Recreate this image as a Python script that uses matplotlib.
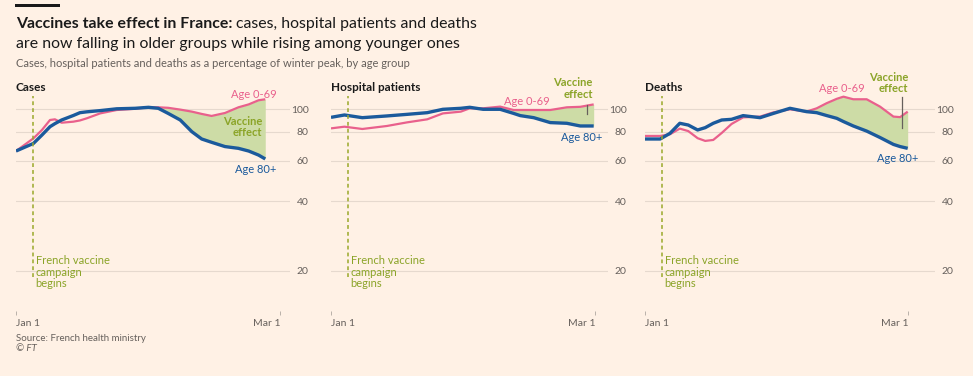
import numpy as np
import matplotlib.pyplot as plt
from matplotlib.patches import Rectangle
from matplotlib.ticker import NullLocator, NullFormatter

plt.rcParams['font.family'] = ['Lato', 'DejaVu Sans']

# data: days after Jan 1, value as % of winter peak
cases_days = [0, 3.9, 5.8, 7.6, 8.7, 10.2, 12.8, 14.3, 15.8, 18.8, 22.5, 26.6, 29.6, 31.8,
              34.0, 36.7, 39.3, 41.5, 43.7, 46.7, 49.7, 52.0, 54.2, 55.7]
cases_80 = [66, 71.2, 77.4, 84.1, 86.7, 89.9, 94, 96.7, 97.5, 98.7, 100.5, 101, 102, 101,
            96, 89.9, 80, 74.4, 72, 69, 67.8, 66, 63.4, 61]
cases_young = [66, 74.9, 81.4, 89.9, 90.5, 87.5, 88.4, 89.5, 91.4, 96, 99.3, 100.5, 102, 102,
               101.5, 99.7, 97.7, 95.5, 93.6, 96.4, 102, 105, 109.4, 110.5]

hosp_days = [0, 3, 7, 12.5, 17, 21.5, 25, 29, 31, 34, 37.8, 40.8, 42.3, 45.3, 49, 52.7, 55.7, 58.7]
hosp_80 = [92.3, 94.5, 92, 93.6, 95.1, 96.7, 100, 101, 102, 100, 100, 96, 93.9, 92, 87.6, 87,
           84.7, 84.7]
hosp_young = [82.7, 84.1, 82.2, 84.7, 87.8, 90.5, 96, 97.7, 101, 101, 102.7, 99.3, 99.3, 99.3,
              99.3, 102, 102.5, 105]

deaths_days = [0, 3.4, 5.6, 7.8, 9.7, 11.8, 13.5, 15.3, 17.2, 19.4, 22, 25.8, 28.8, 32.5, 36.2,
               38.5, 40.7, 43, 44.5, 46.7, 49.7, 52.7, 55.7, 57.2, 58.9]
deaths_80 = [74.4, 74.4, 78.7, 87, 85.5, 81.4, 83.3, 87, 89.9, 90.5, 93.9, 92, 96, 101, 97.7,
             96.7, 94, 91.4, 88.5, 84.7, 80.5, 75.5, 70.5, 69, 67.8]
deaths_young = [76.7, 76.7, 78, 82.5, 80.5, 75, 73, 73.7, 79, 86.4, 92.3, 93, 97, 100, 97.7,
                101, 106.2, 111, 113.4, 110.5, 110.5, 102.7, 93, 92.5, 97.7]

panel_titles = ['Cases', 'Hospital patients', 'Deaths']
y_ticks = [20, 40, 60, 80, 100]
x_ticks = [0, 59]
x_labels = ['Jan 1', 'Mar 1']
campaign_day = 3.8
effect_start = [31, 37, 36]

BG = '#fff1e5'
PINK = '#e9608c'
BLUE = '#1b5a9c'
FILL = '#cddca6'
OLIVE = '#8ba428'
GREY = '#66605c'
GRID = '#e6d9ce'

W, H = 973, 376
fig = plt.figure(figsize=(W / 100, H / 100), dpi=100, facecolor=BG)


def fx(px):
    return px / W


def fy(py):
    return 1 - py / H


# axes geometry in pixels: left, right, px per day
boxes = [(16, 290, 4.475), (331, 608, 4.475), (645, 935, 4.46)]
top_px, bot_px = 95, 315
series = [(cases_days, cases_80, cases_young),
          (hosp_days, hosp_80, hosp_young),
          (deaths_days, deaths_80, deaths_young)]

axes = []
for i, ((l, r, ppd), (d, old, young)) in enumerate(zip(boxes, series)):
    ax = fig.add_axes([fx(l), fy(bot_px), (r - l) / W, (bot_px - top_px) / H])
    ax.set_facecolor('none')
    d = np.array(d)
    old = np.array(old)
    young = np.array(young)

    ax.set_yscale('log')
    ax.set_ylim(12.9, 115.3)
    ax.set_xlim(0, (r - l) / ppd)
    ax.yaxis.tick_right()
    ax.set_yticks(y_ticks)
    ax.set_yticklabels([str(v) for v in y_ticks])
    ax.yaxis.set_minor_locator(NullLocator())
    ax.yaxis.set_minor_formatter(NullFormatter())
    ax.tick_params(axis='y', length=0, pad=13.5, labelsize=7.5, labelcolor=GREY)
    for lbl in ax.get_yticklabels():
        lbl.set_horizontalalignment('right')
    ax.grid(axis='y', color=GRID, lw=0.8)
    ax.set_axisbelow(True)

    ax.set_xticks(x_ticks)
    ax.set_xticklabels(x_labels)
    ax.tick_params(axis='x', direction='in', length=3, width=0.6, color='#b0a8a0',
                   pad=3, labelsize=7.5, labelcolor=GREY)
    xl = ax.get_xticklabels()
    xl[0].set_horizontalalignment('left')
    xl[1].set_horizontalalignment('right')

    for s in ax.spines.values():
        s.set_visible(False)

    ax.fill_between(d, old, young, where=(young >= old) & (d >= effect_start[i]),
                    interpolate=True, color=FILL, lw=0)
    ax.plot(d, young, color=PINK, lw=1.6, solid_capstyle='butt')
    ax.plot(d, old, color=BLUE, lw=2.4, solid_capstyle='butt')

    # vaccine campaign marker
    ax.plot([campaign_day, campaign_day], [18.8, 114], color='#9aa82a', lw=1.1,
            ls=(0, (2.5, 2)))
    ax.text(campaign_day + 0.6, 23.4, 'French vaccine\ncampaign\nbegins', color=OLIVE,
            fontsize=8, va='top', ha='left', linespacing=1.05)

    fig.text(fx(l), fy(91), panel_titles[i], fontsize=8.5, weight='bold', color='#1a1a1a',
             va='baseline', ha='left')
    axes.append(ax)

# labels
ax1, ax2, ax3 = axes
ax1.text(58.3, 112, 'Age 0-69', color=PINK, fontsize=8, ha='right', va='baseline')
ax1.text(55, 83.8, 'Vaccine\neffect', color=OLIVE, fontsize=8, weight='bold',
         ha='right', va='center', linespacing=1.05)
ax1.text(58.1, 55.1, 'Age 80+', color=BLUE, fontsize=8, ha='right', va='center')

ax2.text(48.9, 108.6, 'Age 0-69', color=PINK, fontsize=8, ha='right', va='center')
ax2.text(58.5, 123, 'Vaccine\neffect', color=OLIVE, fontsize=8, weight='bold',
         ha='right', va='center', linespacing=1.05)
ax2.plot([57.2, 57.2], [95.4, 104.4], color=GREY, lw=0.9)
ax2.text(60.6, 75.5, 'Age 80+', color=BLUE, fontsize=8, ha='right', va='center')

ax3.text(49.3, 123, 'Age 0-69', color=PINK, fontsize=8, ha='right', va='center')
ax3.text(59, 130, 'Vaccine\neffect', color=OLIVE, fontsize=8, weight='bold',
         ha='right', va='center', linespacing=1.05)
ax3.plot([57.6, 57.6], [83, 113], color=GREY, lw=0.9, clip_on=False)
ax3.text(61.4, 61.5, 'Age 80+', color=BLUE, fontsize=8, ha='right', va='center')

# header
fig.patches.append(Rectangle((fx(15), fy(7)), 45 / W, 3 / H, transform=fig.transFigure,
                             color='#1a1a1a', lw=0))
t1 = fig.text(fx(16), fy(28), 'Vaccines take effect in France:', fontsize=11.4, weight='bold',
              color='#1a1a1a', va='baseline')
fig.canvas.draw()
bb = t1.get_window_extent()
fig.text((bb.x1 + 4) / W, fy(28), 'cases, hospital patients and deaths', fontsize=11.4,
         color='#1a1a1a', va='baseline')
fig.text(fx(16), fy(48), 'are now falling in older groups while rising among younger ones',
         fontsize=11.4, color='#1a1a1a', va='baseline')
fig.text(fx(16), fy(67), 'Cases, hospital patients and deaths as a percentage of winter peak, by age group',
         fontsize=8, color=GREY, va='baseline')

# footer
fig.text(fx(16), fy(341), 'Source: French health ministry', fontsize=7, color=GREY,
         va='baseline')
fig.text(fx(16), fy(351), '© FT', fontsize=7, color=GREY, style='italic', va='baseline')

fig.savefig('out.png', dpi=100, facecolor=BG)
